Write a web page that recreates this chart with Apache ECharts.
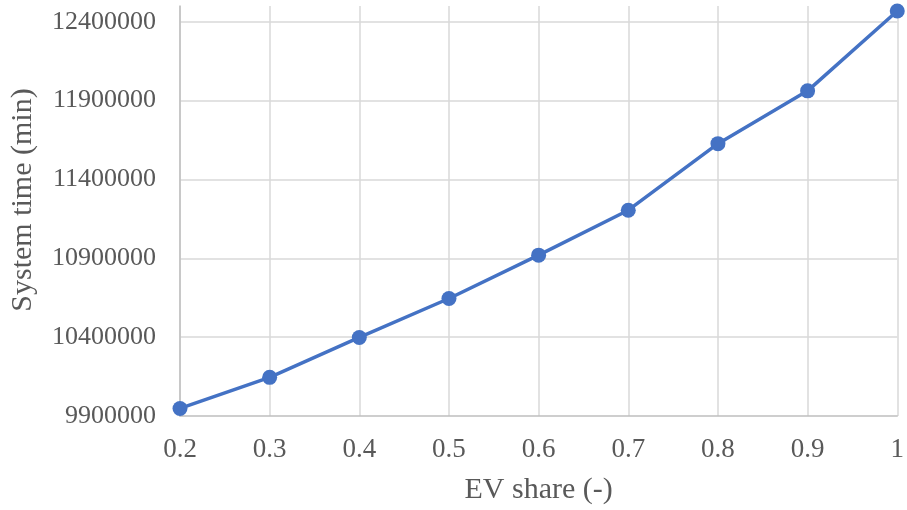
<!DOCTYPE html>
<html>
<head>
<meta charset="utf-8">
<script src="https://cdn.jsdelivr.net/npm/echarts@6/dist/echarts.min.js"></script>
<style>
  html, body { margin: 0; padding: 0; background: #ffffff; }
  #chart { width: 907px; height: 510px; }
</style>
</head>
<body>
<div id="chart"></div>
<script>
// EV share categories (x axis)
const evShare = ['0.2', '0.3', '0.4', '0.5', '0.6', '0.7', '0.8', '0.9', '1'];
// Total system time in minutes for each EV share
const systemTime = [9948000, 10145000, 10398000, 10645000, 10920000, 11205000, 11627000, 11962000, 12468000];
// Value axis range and step
const yMin = 9900000;
const yMax = 12500000;
const yStep = 500000;

const font = 'Liberation Serif, Times New Roman, serif';
const chart = echarts.init(document.getElementById('chart'));
chart.setOption({
  animation: false,
  grid: { left: 180, right: 6, top: 6, bottom: 93, containLabel: false },
  xAxis: {
    type: 'category',
    data: evShare,
    boundaryGap: false,
    name: 'EV share (-)',
    nameLocation: 'middle',
    nameGap: 59,
    nameTextStyle: { fontFamily: font, fontSize: 30, color: '#595959' },
    axisLine: { show: true, lineStyle: { color: '#bfbfbf', width: 1.5 } },
    axisTick: { show: false },
    axisLabel: { fontFamily: font, fontSize: 27, color: '#595959', margin: 20 },
    splitLine: { show: true, lineStyle: { color: '#d9d9d9', width: 1.5 } }
  },
  yAxis: {
    type: 'value',
    min: yMin,
    max: yMax,
    interval: yStep,
    name: 'System time (min)',
    nameLocation: 'middle',
    nameGap: 142,
    nameTextStyle: { fontFamily: font, fontSize: 30, color: '#595959', padding: [0, 0, 0, 22] },
    axisLine: { show: true, lineStyle: { color: '#bfbfbf', width: 1.5 } },
    axisTick: { show: false },
    axisLabel: {
      fontFamily: font, fontSize: 26, color: '#595959', margin: 24, showMaxLabel: false,
      formatter: (v) => String(v)
    },
    splitLine: { show: true, showMaxLine: false, showMinLine: false, lineStyle: { color: '#d9d9d9', width: 1.5 } }
  },
  series: [{
    type: 'line',
    data: systemTime,
    clip: false,
    symbol: 'circle',
    symbolSize: 15,
    lineStyle: { color: '#4472C4', width: 3.5 },
    itemStyle: { color: '#4472C4' }
  }]
});
</script>
</body>
</html>
